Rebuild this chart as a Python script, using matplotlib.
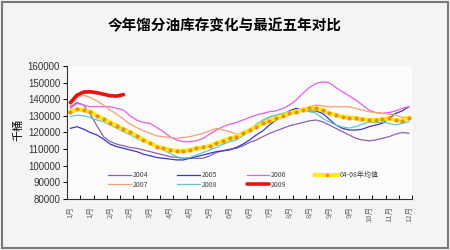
import matplotlib
matplotlib.use("Agg")
import matplotlib.pyplot as plt
from matplotlib.patches import Rectangle

plt.rcParams['font.family'] = ['Noto Sans CJK SC', 'DejaVu Sans']

# weekly distillate stocks, thousand barrels (52 weeks)
y2004 = [135500, 138000, 136500, 131000, 124000, 117500, 114500, 113000, 112000, 111000,
         110500, 109500, 108500, 107500, 106500, 105500, 105000, 104500, 104500, 104500,
         104500, 106000, 108000, 109000, 110000, 110500, 112000, 114000, 115500, 117500,
         119500, 121000, 122500, 124000, 125000, 126000, 127000, 127500, 126500, 124500,
         122500, 120500, 118500, 116500, 115500, 115000, 115500, 116500, 117500, 119000,
         120000, 119500]
y2005 = [122500, 123500, 122000, 120000, 118500, 116000, 113000, 111500, 110500, 109500,
         108500, 107000, 106000, 105000, 104500, 104000, 103500, 103500, 104500, 105500,
         106500, 107500, 108500, 109000, 109500, 111000, 113000, 115500, 118500, 121000,
         124500, 127500, 130500, 133000, 134500, 133500, 133000, 133000, 131500, 128000,
         124500, 122500, 121500, 121500, 122000, 123500, 124500, 125500, 128500, 131500,
         133000, 135500]
y2006 = [134500, 137500, 136500, 135500, 135500, 135500, 135500, 134500, 133500, 130000,
         127500, 126000, 125500, 123000, 120500, 117500, 115500, 114500, 114500, 115000,
         116500, 119000, 121500, 123500, 125000, 126000, 127500, 129000, 130500, 131500,
         132500, 133000, 134500, 136500, 139500, 143500, 147000, 149500, 150500, 150000,
         147000, 144500, 142000, 139500, 136500, 133500, 132000, 131500, 132000, 133000,
         134500, 135500]
y2007 = [136500, 141000, 142500, 141000, 139000, 136500, 133500, 131000, 128000, 125000,
         123000, 121000, 119500, 118000, 117500, 117000, 116500, 117000, 117500, 118500,
         119500, 121000, 122500, 121500, 120500, 119000, 118500, 121000, 124500, 127000,
         129000, 130500, 131500, 132500, 133500, 134500, 135500, 136500, 136000, 135500,
         135500, 135500, 135500, 134500, 133500, 132500, 132000, 131500, 131000, 130500,
         129000, 129500]
y2008 = [129500, 130500, 130000, 129000, 127500, 126500, 124500, 122500, 120500, 118500,
         116500, 114500, 113000, 111000, 109500, 107500, 105500, 104500, 105000, 106500,
         108000, 109500, 111000, 113000, 114500, 115500, 118000, 121500, 125000, 127500,
         129500, 130500, 131500, 132500, 133500, 133500, 132500, 131700, 128500, 126300,
         124500, 123300, 122700, 123500, 125000, 126300, 126000, 126300, 125500, 124500,
         125500, 126500]
y2009 = [138000, 142500, 144300, 144500, 143900, 143000, 142100, 141900, 142800]
avg_04_08 = [132500, 134000, 133500, 132500, 130000, 128000, 126000, 124000, 122000, 120000,
             118000, 115500, 113500, 111500, 110500, 109500, 109000, 109000, 109500, 110500,
             111000, 112000, 113500, 115000, 116500, 117500, 119500, 121500, 123500, 125500,
             127000, 128500, 130000, 131500, 132500, 133500, 134500, 134500, 133500, 131500,
             130500, 129500, 129000, 128500, 128000, 127500, 127500, 128000, 128500, 127500,
             127000, 129000]

month_labels = ["1月", "1月", "2月", "2月", "3月", "4月", "4月", "5月", "6月",
                "6月", "7月", "8月", "8月", "9月", "9月", "10月", "11月", "12月"]

weeks = list(range(52))

fig = plt.figure(figsize=(4.5, 2.5), dpi=100, facecolor='#f4f4f4')
fig.patches.append(Rectangle((0.004, 0.008), 0.991, 0.984, transform=fig.transFigure,
                             fill=False, edgecolor='#7a7a7a', linewidth=1.5))
ax = fig.add_axes([0.149, 0.204, 0.767, 0.532])
ax.set_facecolor('#fbfbfb')

h04, = ax.plot(weeks, y2004, color='#9060b0', lw=0.9, label='2004')
h05, = ax.plot(weeks, y2005, color='#3838c8', lw=0.9, label='2005')
h06, = ax.plot(weeks, y2006, color='#e65ce6', lw=0.9, label='2006')
h07, = ax.plot(weeks, y2007, color='#f5a070', lw=0.9, label='2007')
h08, = ax.plot(weeks, y2008, color='#60c8d0', lw=0.9, label='2008')
havg, = ax.plot(weeks, avg_04_08, color='#ffee00', lw=3.0, marker='o', ms=2.0,
                mfc='#f08a20', mec='#f08a20', label='04-08年均值')
h09, = ax.plot(weeks[:len(y2009)], y2009, color='#ee1010', lw=2.6,
               solid_capstyle='round', label='2009')

ax.set_xlim(-0.5, 51.5)
ax.set_ylim(80000, 160000)
ax.set_yticks(range(80000, 160001, 10000))
ax.set_xticks(range(0, 52, 3))
ax.set_xticklabels(month_labels, rotation=90, fontsize=5.5, color='#666666')
ax.set_xticks([x - 0.5 for x in range(0, 53, 2)], minor=True)
ax.tick_params(axis='x', which='major', length=0, pad=5)
ax.tick_params(axis='x', which='minor', direction='in', length=3, width=0.7)
ax.tick_params(axis='y', direction='out', length=3, width=0.7, labelsize=7, pad=2,
               labelcolor='#333333')
for lab in ax.get_yticklabels():
    lab.set_family(['Liberation Sans', 'DejaVu Sans'])
for side in ('top', 'right'):
    ax.spines[side].set_visible(False)
for side in ('left', 'bottom'):
    ax.spines[side].set_linewidth(0.8)
    ax.spines[side].set_color('#333333')

ax.legend([h04, h07, h05, h08, h06, h09, havg],
          ['2004', '2007', '2005', '2008', '2006', '2009', '04-08年均值'],
          ncol=4, frameon=False, fontsize=5, loc='lower left',
          bbox_to_anchor=(0.11, 0.05), handlelength=3.2, handletextpad=0.3,
          columnspacing=4.2, labelspacing=0.25, borderpad=0, markerscale=0.8,
          labelcolor='#444444')

fig.text(0.5, 0.9, '今年馏分油库存变化与最近五年对比', ha='center', va='center',
         fontsize=10.5, fontweight='bold')
fig.text(18 / 450, 1 - 130 / 250, '千桶', rotation=90, ha='center', va='center',
         fontsize=8)

fig.savefig('out.png', dpi=100, facecolor=fig.get_facecolor())
